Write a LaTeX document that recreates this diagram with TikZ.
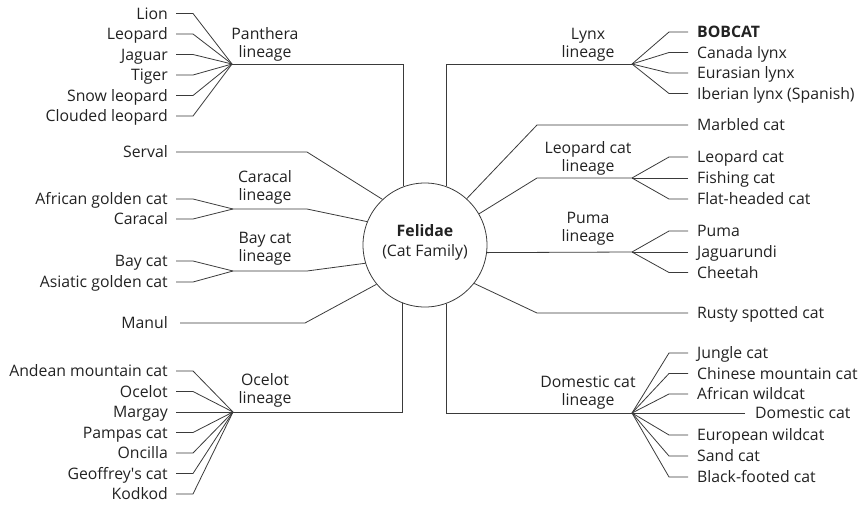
\documentclass[tikz,border=0pt]{standalone}
\usepackage{fontspec}
\setmainfont{Open Sans}
\definecolor{linec}{HTML}{3A3A3A}
\definecolor{txtc}{HTML}{222222}
\begin{document}
\begin{tikzpicture}[x=1pt,y=-1pt,
  ln/.style={draw=linec, line width=0.8pt},
  basefont/.style={font=\fontsize{15.8}{16}\selectfont, text=txtc},
  leafL/.style={basefont, anchor=east, inner sep=0pt, text height=11.2pt, text depth=0pt},
  leafR/.style={leafL, anchor=west},
  lineage/.style={basefont, align=center, inner sep=0pt},
  family/.style={circle, draw=linec, line width=0.8pt, minimum size=124pt, inner sep=0pt}]
\useasboundingbox (0,0) rectangle (868,504);

% central circle
\node[family] (felidae) at (425,245) {};
\node[align=center, inner sep=0pt, text=txtc, font=\fontsize{15.8}{20}\selectfont] (feltext) at (425,242) {\strut\textbf{Felidae}\\\strut(Cat Family)};

% hubs and elbows
\coordinate (panhub) at (232,64);
\coordinate (lynxhub) at (632,64);
\coordinate (carhub) at (233,209);
\coordinate (bayhub) at (233,271);
\coordinate (lcathub) at (632,178);
\coordinate (pumahub) at (632,252);
\coordinate (ocehub) at (233,412);
\coordinate (domhub) at (632,413);
\coordinate (carelb) at (307,209);
\coordinate (bayelb) at (307,271);
\coordinate (servelb) at (307,152);
\coordinate (manelb) at (305,323);
\coordinate (marbelb) at (537,125);
\coordinate (lcatelb) at (537,178);
\coordinate (rustelb) at (537,313);

% lineage labels
\node[lineage] (panlab) at (265,45) {\strut Panthera\\\strut lineage};
\node[lineage] (lynxlab) at (588,45) {\strut Lynx\\\strut lineage};
\node[lineage] (carlab) at (265,188) {\strut Caracal\\\strut lineage};
\node[lineage] (baylab) at (265,249) {\strut Bay cat\\\strut lineage};
\node[lineage] (lcatlab) at (588,159) {\strut Leopard cat\\\strut lineage};
\node[lineage] (pumalab) at (588,229.5) {\strut Puma\\\strut lineage};
\node[lineage] (ocelab) at (265,391) {\strut Ocelot\\\strut lineage};
\node[lineage] (domlab) at (588,393) {\strut Domestic cat\\\strut lineage};

% trunk connectors
\draw[ln] (panhub) -| (felidae.110.8);
\draw[ln] (felidae.70.2) |- (lynxhub);
\draw[ln] (felidae.249.2) |- (ocehub);
\draw[ln] (felidae.290.8) |- (domhub);
\draw[ln] (felidae.353.5) -- (pumahub);
\draw[ln] (felidae.158.7) -- (carelb) -- (carhub);
\draw[ln] (felidae.197.6) -- (bayelb) -- (bayhub);
\draw[ln] (felidae.30.6) -- (lcatelb) -- (lcathub);

% single species
\node[leafL] (serval) at (168,152) {Serval};
\draw[ln] ([xshift=8pt]serval.east) -- (servelb) -- (felidae.133);
\node[leafL] (manul) at (168,323) {Manul};
\draw[ln] ([xshift=12pt]manul.east) -- (manelb) -- (felidae.219);
\node[leafR] (marbled) at (697,125) {Marbled cat};
\draw[ln] ([xshift=-9pt]marbled.west) -- (marbelb) -- (felidae.48.2);
\node[leafR] (rusty) at (697,313) {Rusty spotted cat};
\draw[ln] ([xshift=-9pt]rusty.west) -- (rustelb) -- (felidae.322.8);

% Panthera
\foreach \n/\y/\t in {lion/13.5/Lion, leopard/34/Leopard, jaguar/54.5/Jaguar, tiger/75/Tiger, snow/95.5/Snow leopard, clouded/116/Clouded leopard}{
  \node[leafL] (\n) at (168,\y) {\t};
  \draw[ln] ([xshift=8pt]\n.east) -- (193,\y) -- (panhub);
}
% Caracal
\foreach \n/\y/\t in {afgold/199/African golden cat, caracal/219/Caracal}{
  \node[leafL] (\n) at (168,\y) {\t};
  \draw[ln] ([xshift=8pt]\n.east) -- (193,\y) -- (carhub);
}
% Bay cat
\foreach \n/\y/\t in {baycat/261/Bay cat, asgold/282/Asiatic golden cat}{
  \node[leafL] (\n) at (168,\y) {\t};
  \draw[ln] ([xshift=8pt]\n.east) -- (193,\y) -- (bayhub);
}
% Ocelot
\foreach \n/\y/\t in {andean/371/Andean mountain cat, ocelot/391.5/Ocelot, pampas/432.5/Pampas cat, oncilla/453/Oncilla, geoffroy/473.5/Geoffrey\textquotesingle{}s cat, kodkod/494/Kodkod}{
  \node[leafL] (\n) at (168,\y) {\t};
  \draw[ln] ([xshift=8pt]\n.east) -- (193,\y) -- (ocehub);
}
\node[leafL] (margay) at (168,412) {Margay};
\draw[ln] ([xshift=8pt]margay.east) -- (ocehub);

% Lynx
\foreach \n/\y/\t in {bobcat/32/\textbf{BOBCAT}, canada/52.5/Canada lynx, eurasian/73/Eurasian lynx, iberian/93.5/Iberian lynx (Spanish)}{
  \node[leafR] (\n) at (697,\y) {\t};
  \draw[ln] ([xshift=-9pt]\n.west) -- (669,\y) -- (lynxhub);
}
% Leopard cat
\foreach \n/\y/\t in {leocat/157/Leopard cat, flathead/199/Flat-headed cat}{
  \node[leafR] (\n) at (697,\y) {\t};
  \draw[ln] ([xshift=-9pt]\n.west) -- (669,\y) -- (lcathub);
}
\node[leafR] (fishing) at (697,178) {Fishing cat};
\draw[ln] ([xshift=-9pt]fishing.west) -- (lcathub);
% Puma
\foreach \n/\y/\t in {puma/231/Puma, cheetah/272.5/Cheetah}{
  \node[leafR] (\n) at (697,\y) {\t};
  \draw[ln] ([xshift=-9pt]\n.west) -- (669,\y) -- (pumahub);
}
\node[leafR] (jaguarundi) at (697,252) {Jaguarundi};
\draw[ln] ([xshift=-9pt]jaguarundi.west) -- (pumahub);
% Domestic
\foreach \n/\y/\t in {jungle/353/Jungle cat, chinese/373.5/Chinese mountain cat, afwild/394/African wildcat, euwild/435/European wildcat, sand/456/Sand cat, blackfoot/477/Black-footed cat}{
  \node[leafR] (\n) at (697,\y) {\t};
  \draw[ln] ([xshift=-9pt]\n.west) -- (669,\y) -- (domhub);
}
\node[leafR] (domestic) at (755,413) {Domestic cat};
\draw[ln] ([xshift=-10pt]domestic.west) -- (domhub);
\end{tikzpicture}
\end{document}
